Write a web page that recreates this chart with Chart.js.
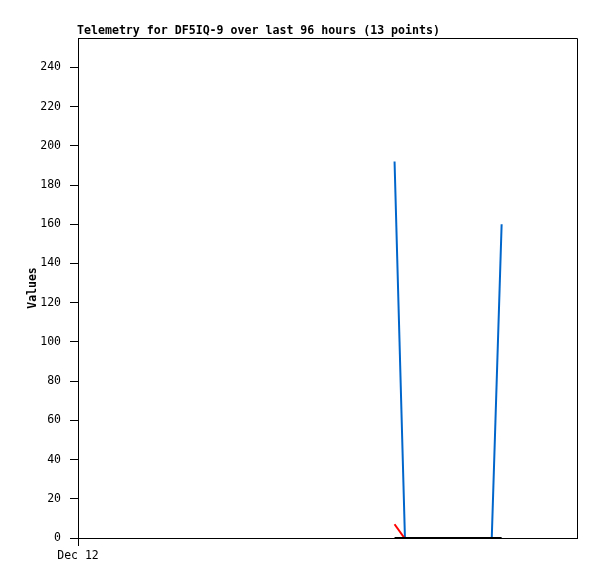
<!DOCTYPE html>
<html>
<head>
<meta charset="utf-8">
<script src="https://cdn.jsdelivr.net/npm/chart.js@4"></script>
<style>
  html, body { margin: 0; padding: 0; background: #fff; }
  #wrap { width: 597px; height: 579px; }
</style>
</head>
<body>
<div id="wrap"><canvas id="chart" width="597" height="579"></canvas></div>
<script>
// hours since Dec 12 00:00 (96 hour window)
const tituloGrafico = 'Telemetry for DF5IQ-9 over last 96 hours (13 points)';
const etiquetaInicio = 'Dec 12';
const horasTotales = 96;

const horasAzul = [60.9, 62.9, 79.6, 81.5];
const valoresAzul = [192, 0, 0, 160];

const horasNegro = [60.9, 62.9, 65, 67, 69, 71, 73, 75, 77, 79.6, 81.5];
const valoresNegro = [0, 0, 0, 0, 0, 0, 0, 0, 0, 0, 0];

const horasRojo = [60.9, 62.8];
const valoresRojo = [7, 0];

const fuente = "'DejaVu Sans Mono', monospace";

function aPuntos(xs, ys) {
    return xs.map((x, i) => ({ x: x, y: ys[i] }));
}

// Título y marco alrededor del área del gráfico
const marcoPlugin = {
    id: 'marco',
    afterDraw(chart) {
        const ctx = chart.ctx;
        const a = chart.chartArea;
        ctx.save();
        ctx.strokeStyle = '#000';
        ctx.lineWidth = 1;
        ctx.beginPath();
        ctx.moveTo(a.left, a.top + 0.5);
        ctx.lineTo(a.right + 0.5, a.top + 0.5);
        ctx.lineTo(a.right + 0.5, a.bottom);
        ctx.stroke();
        ctx.fillStyle = '#000';
        ctx.font = 'bold 11.6px ' + fuente;
        ctx.textBaseline = 'alphabetic';
        ctx.textAlign = 'left';
        ctx.fillText(tituloGrafico, a.left - 1, a.top - 4);
        ctx.restore();
    }
};

const ctx = document.getElementById('chart').getContext('2d');
const chart = new Chart(ctx, {
    type: 'line',
    data: {
        datasets: [
            {
                label: 'negro',
                data: aPuntos(horasNegro, valoresNegro),
                borderColor: '#000000',
                borderWidth: 2,
                pointRadius: 0,
                order: 0
            },
            {
                label: 'rojo',
                data: aPuntos(horasRojo, valoresRojo),
                borderColor: '#ff0000',
                borderWidth: 2,
                pointRadius: 0,
                order: 1
            },
            {
                label: 'azul',
                data: aPuntos(horasAzul, valoresAzul),
                borderColor: '#0066cc',
                borderWidth: 2,
                pointRadius: 0,
                order: 2
            }
        ]
    },
    options: {
        responsive: false,
        animation: false,
        layout: { padding: { top: 38, right: 20, left: 0, bottom: 0 } },
        plugins: {
            legend: { display: false },
            tooltip: { enabled: false }
        },
        scales: {
            x: {
                type: 'linear',
                min: 0,
                max: horasTotales,
                grid: { drawOnChartArea: false, color: '#000', tickLength: 8 },
                border: { color: '#000', width: 1 },
                afterBuildTicks: function (scale) {
                    scale.ticks = [{ value: 0 }];
                },
                afterFit: function (scale) { scale.height = 41; },
                ticks: {
                    color: '#000',
                    font: { family: fuente, size: 11.5 },
                    maxRotation: 0,
                    padding: 3,
                    callback: () => etiquetaInicio
                }
            },
            y: {
                min: 0,
                max: 255,
                grid: { drawOnChartArea: false, color: '#000', tickLength: 8 },
                border: { color: '#000', width: 1 },
                afterBuildTicks: function (scale) {
                    scale.ticks = scale.ticks.filter(t => t.value % 20 === 0);
                },
                afterFit: function (scale) { scale.width = 78; },
                title: {
                    display: true,
                    text: 'Values',
                    color: '#000',
                    font: { family: fuente, size: 11.5, weight: 'bold' },
                    padding: { top: 26, bottom: 0 }
                },
                ticks: {
                    stepSize: 20,
                    color: '#000',
                    font: { family: fuente, size: 11.5 },
                    padding: 9
                }
            }
        }
    },
    plugins: [marcoPlugin]
});
</script>
</body>
</html>
